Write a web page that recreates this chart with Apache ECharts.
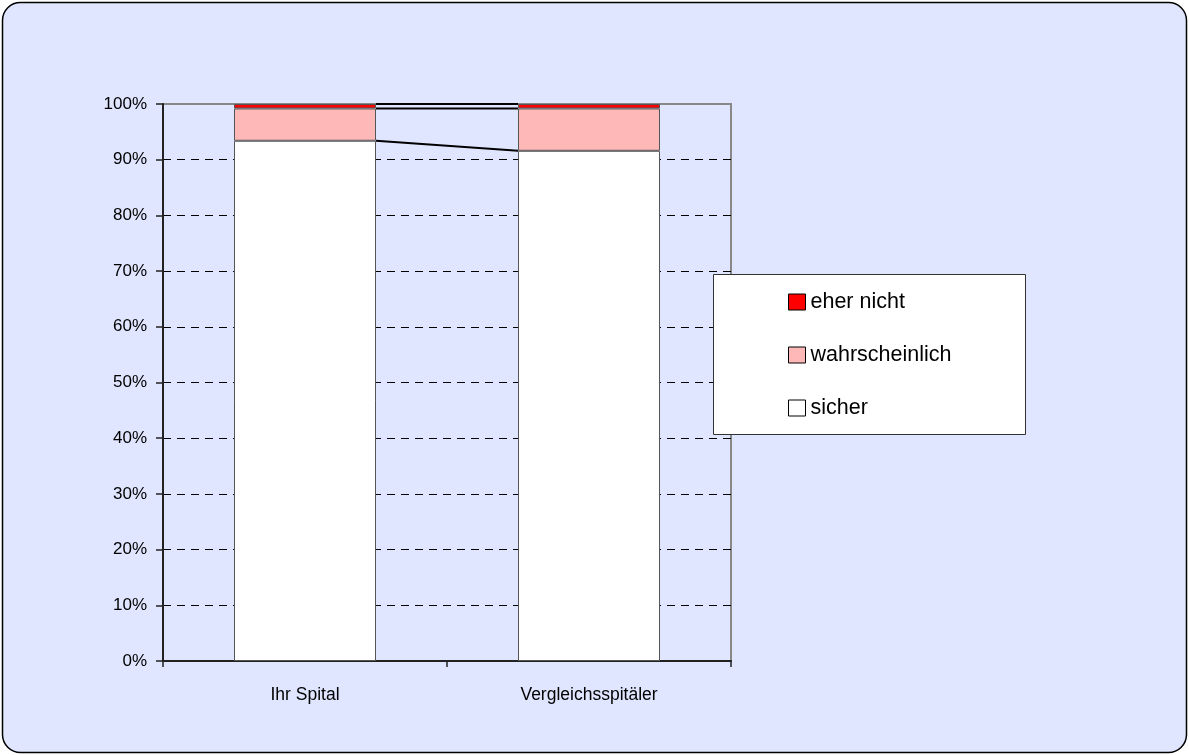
<!DOCTYPE html>
<html>
<head>
<meta charset="utf-8">
<script src="https://cdn.jsdelivr.net/npm/echarts@6/dist/echarts.min.js"></script>
<style>
html,body{margin:0;padding:0;background:#ffffff;}
#chart{width:1189px;height:755px;}
</style>
</head>
<body>
<div id="chart"></div>
<script>
// ---- data ----
const categories = ['Ihr Spital', 'Vergleichsspitäler'];
const seriesNames = ['sicher', 'wahrscheinlich', 'eher nicht'];
const sicher = [93.4, 91.6];
const wahrscheinlich = [5.8, 7.6];
const eherNicht = [0.8, 0.8];
const yTicks = [0, 10, 20, 30, 40, 50, 60, 70, 80, 90, 100];

const FONT = "'Liberation Sans Narrow','Arial Narrow','Liberation Sans',Arial,sans-serif";
const seriesValues = [sicher, wahrscheinlich, eherNicht];
const colors = ['#FFFFFF', '#FFB8B8', '#FF0000'];

// cumulative tops of each stack level (for Excel-style series lines)
const levels = [];
for (let s = 0; s < seriesValues.length; s++) {
  const row = [0];
  for (let c = 0; c < categories.length; c++) {
    let sum = 0;
    for (let k = 0; k <= s; k++) sum += seriesValues[k][c];
    row.push(sum);
  }
  levels.push(row);
}

const chart = echarts.init(document.getElementById('chart'));

const barSeries = seriesNames.map((name, i) => ({
  name: name,
  type: 'bar',
  stack: 'total',
  barWidth: '50%',
  data: seriesValues[i],
  itemStyle: { color: colors[i], borderColor: '#555', borderWidth: 1 },
  emphasis: { disabled: true },
  z: 2
}));

const option = {
  animation: false,
  backgroundColor: 'transparent',
  textStyle: { fontFamily: FONT },
  graphic: [
    {
      type: 'rect', z: -10,
      shape: { x: 2.5, y: 2.5, width: 1184, height: 750, r: 18 },
      style: { fill: '#E0E6FF', stroke: '#000', lineWidth: 1.5 }
    },
    {
      type: 'rect', z: 3,
      shape: { x: 713.5, y: 274.5, width: 312, height: 160 },
      style: { fill: '#FFFFFF', stroke: '#333', lineWidth: 1 }
    }
  ],
  grid: {
    left: 163, right: 458, top: 104, bottom: 94,
    show: true, borderColor: '#888', borderWidth: 2, backgroundColor: 'transparent'
  },
  legend: {
    data: ['eher nicht', 'wahrscheinlich', 'sicher'],
    orient: 'vertical',
    left: 788, top: 289,
    padding: 0,
    itemWidth: 17, itemHeight: 16,
    itemGap: 27,
    icon: 'rect',
    itemStyle: { borderColor: '#000', borderWidth: 1 },
    textStyle: { fontFamily: FONT, fontSize: 21.5, lineHeight: 26, color: '#000' },
    selectedMode: false,
    z: 5
  },
  xAxis: {
    type: 'category',
    data: categories,
    boundaryGap: true,
    axisLine: { show: true, lineStyle: { color: '#222', width: 2 } },
    axisTick: { show: true, length: 6, inside: false, lineStyle: { color: '#222', width: 1.5 } },
    axisLabel: { fontFamily: FONT, fontSize: 17.5, color: '#000', margin: 25 },
    splitLine: { show: false }
  },
  yAxis: {
    type: 'value',
    min: yTicks[0], max: yTicks[yTicks.length - 1], interval: 10,
    axisLine: { show: true, lineStyle: { color: '#222', width: 2 } },
    axisTick: { show: true, length: 7, lineStyle: { color: '#222', width: 1.5 } },
    axisLabel: { fontFamily: FONT, fontSize: 17, color: '#000', margin: 16, formatter: '{value}%' },
    splitLine: { show: true, showMinLine: false, showMaxLine: false, lineStyle: { color: '#000', width: 1, type: [8, 6] } }
  },
  series: barSeries.concat([{
    type: 'custom',
    name: 'seriesLines',
    data: levels,
    encode: { x: 0, y: [1, 2] },
    z: 5,
    silent: true,
    renderItem: function (params, api) {
      const p0 = api.coord([0, api.value(1)]);
      const p1 = api.coord([1, api.value(2)]);
      const half = api.size([1, 0])[0] * 0.25;
      return {
        type: 'line',
        shape: { x1: p0[0] + half, y1: p0[1], x2: p1[0] - half, y2: p1[1] },
        style: { stroke: '#000', lineWidth: 2 }
      };
    }
  }])
};
chart.setOption(option);
</script>
</body>
</html>
